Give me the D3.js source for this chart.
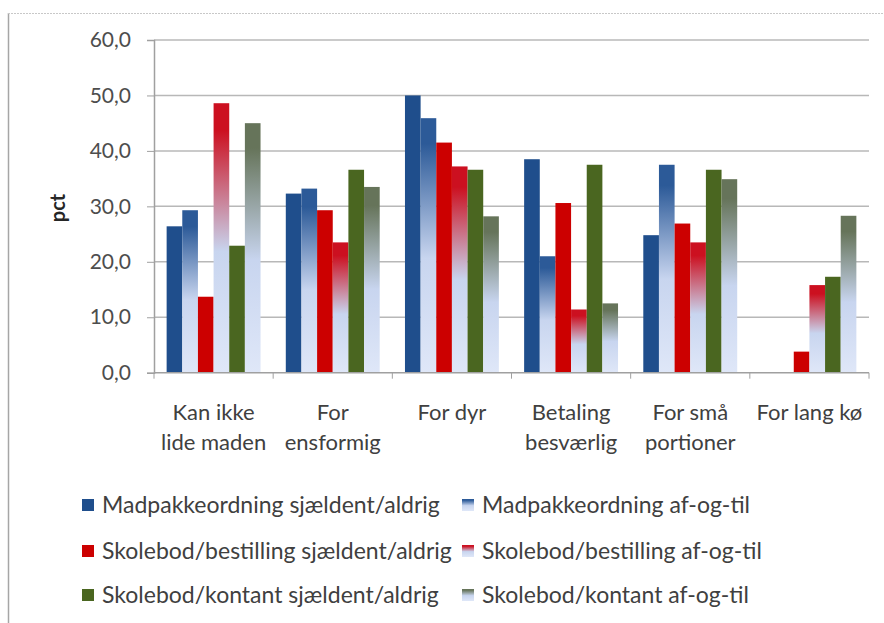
<!DOCTYPE html>
<html>
<head>
<meta charset="utf-8">
<script src="https://cdn.jsdelivr.net/npm/d3@7"></script>
<style>
  html, body { margin: 0; padding: 0; background: #fff; }
  svg { display: block; }
  text { font-family: Lato, "Open Sans", sans-serif; }
</style>
</head>
<body>
<svg id="chart" width="884" height="623"></svg>
<script>
// ---- data ----
const categories = [
  ["Kan ikke", "lide maden"],
  ["For", "ensformig"],
  ["For dyr"],
  ["Betaling", "besværlig"],
  ["For små", "portioner"],
  ["For lang kø"]
];
const seriesNames = [
  "Madpakkeordning sjældent/aldrig",
  "Madpakkeordning af-og-til",
  "Skolebod/bestilling sjældent/aldrig",
  "Skolebod/bestilling af-og-til",
  "Skolebod/kontant sjældent/aldrig",
  "Skolebod/kontant af-og-til"
];
const madpakkeSjaeldent = [26.4, 32.3, 50.0, 38.5, 24.8, 0];
const madpakkeAfOgTil   = [29.3, 33.2, 45.9, 21.0, 37.5, 0];
const bestillingSjaeldent = [13.7, 29.3, 41.5, 30.6, 26.9, 3.8];
const bestillingAfOgTil   = [48.6, 23.5, 37.2, 11.4, 23.5, 15.8];
const kontantSjaeldent = [22.9, 36.6, 36.6, 37.5, 36.6, 17.3];
const kontantAfOgTil   = [45.0, 33.5, 28.2, 12.5, 34.9, 28.3];
const seriesValues = [madpakkeSjaeldent, madpakkeAfOgTil, bestillingSjaeldent, bestillingAfOgTil, kontantSjaeldent, kontantAfOgTil];
const yTicks = [0, 10, 20, 30, 40, 50, 60];

// ---- styles ----
const solid = ["#1f4e8c", null, "#cc0000", null, "#4a6620", null];
const gradTop = [null, "#2c5a98", null, "#cc1020", null, "#66745a"];

const svg = d3.select("#chart");
const defs = svg.append("defs");
gradTop.forEach((c, i) => {
  if (!c) return;
  const g = defs.append("linearGradient").attr("id", "g" + i)
    .attr("x1", 0).attr("y1", 0).attr("x2", 0).attr("y2", 1);
  g.append("stop").attr("offset", "0%").attr("stop-color", c);
  g.append("stop").attr("offset", "10%").attr("stop-color", c);
  g.append("stop").attr("offset", "55%").attr("stop-color", "#c8d5ef");
  g.append("stop").attr("offset", "100%").attr("stop-color", "#dfe7f8");
});
const fillOf = i => solid[i] ? solid[i] : `url(#g${i})`;

// outer border
svg.append("line").attr("x1", 8.5).attr("x2", 8.5).attr("y1", 13).attr("y2", 623)
  .attr("stroke", "#a6a6a6").attr("stroke-width", 1.5);
svg.append("line").attr("x1", 8).attr("x2", 884).attr("y1", 13.5).attr("y2", 13.5)
  .attr("stroke", "#c8c8c8").attr("stroke-width", 1).attr("stroke-dasharray", "2,1");

const pLeft = 154, pRight = 869, pTop = 40, pBottom = 372.7;
const x0 = d3.scaleBand().domain(d3.range(categories.length)).range([pLeft, pRight])
  .paddingInner(0.212).paddingOuter(0.106);
const x1 = d3.scaleBand().domain(d3.range(seriesNames.length)).range([0, x0.bandwidth()]);
const y = d3.scaleLinear().domain([0, 60]).range([pBottom, pTop]);
const fmt = d3.formatLocale({decimal: ",", thousands: ".", grouping: [3], currency: ["", ""]}).format(".1f");

// gridlines
svg.append("g").selectAll("line").data(yTicks.filter(t => t > 0)).join("line")
  .attr("x1", pLeft).attr("x2", pRight)
  .attr("y1", d => y(d)).attr("y2", d => y(d))
  .attr("stroke", "#b8b8b8").attr("stroke-width", 1.5);

// bars
const groups = svg.append("g").selectAll("g").data(categories).join("g")
  .attr("transform", (d, i) => `translate(${x0(i)},0)`);
groups.selectAll("rect")
  .data((d, ci) => seriesValues.map((vals, si) => ({si, v: vals[ci]})))
  .join("rect")
  .attr("x", d => x1(d.si))
  .attr("width", x1.bandwidth())
  .attr("y", d => y(d.v))
  .attr("height", d => y(0) - y(d.v))
  .attr("fill", d => fillOf(d.si));

// y axis
const yAxis = d3.axisLeft(y).tickValues(yTicks).tickFormat(fmt).tickSize(7).tickPadding(16);
const ga = svg.append("g").attr("transform", `translate(${pLeft},0)`).call(yAxis);
ga.select(".domain").attr("stroke", "#a0a0a0").attr("stroke-width", 1.5);
ga.selectAll(".tick line").attr("stroke", "#a0a0a0");
ga.selectAll(".tick text").attr("fill", "#4d4d4d").style("font-size", "21px").style("font-family", "Lato, sans-serif");

// x axis
const xb = svg.append("g");
xb.append("line").attr("x1", pLeft).attr("x2", pRight).attr("y1", pBottom).attr("y2", pBottom)
  .attr("stroke", "#a0a0a0").attr("stroke-width", 1.5);
const bounds = d3.range(categories.length + 1).map(i => i === categories.length ? pRight : x0(i) - x0.step() * x0.paddingInner() / 2);
xb.selectAll(".tk").data(bounds).join("line").attr("class", "tk")
  .attr("x1", d => d).attr("x2", d => d).attr("y1", pBottom).attr("y2", pBottom + 6)
  .attr("stroke", "#a0a0a0");
xb.selectAll(".cat").data(categories).join("text")
  .attr("class", "cat")
  .attr("text-anchor", "middle")
  .attr("fill", "#404040")
  .style("font-size", "22px")
  .attr("transform", (d, i) => `translate(${x0(i) + x0.bandwidth() / 2},0)`)
  .selectAll("tspan").data(d => d).join("tspan")
  .attr("x", 0).attr("y", (d, j) => 420 + j * 30)
  .text(d => d);

// y title
svg.append("text").attr("transform", "translate(65,208) rotate(-90)")
  .attr("text-anchor", "middle").attr("fill", "#262626")
  .style("font-size", "20px").style("font-weight", "bold").text("pct");

// legend
const legX = [82, 462], legY = [505, 551, 595];
const leg = svg.append("g").selectAll("g").data(seriesNames).join("g")
  .attr("transform", (d, i) => `translate(${legX[i % 2]},${legY[Math.floor(i / 2)]})`);
leg.append("rect").attr("x", 0).attr("y", -6).attr("width", 12).attr("height", 12)
  .attr("fill", (d, i) => fillOf(i));
leg.append("text").attr("x", 20).attr("y", 0).attr("dy", "0.35em")
  .attr("fill", "#404040").style("font-size", "23px").text(d => d);
</script>
</body>
</html>
